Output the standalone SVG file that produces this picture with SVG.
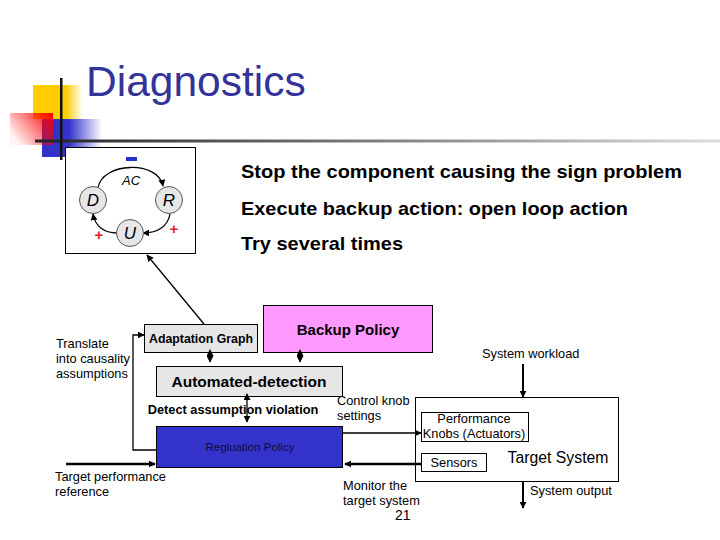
<svg xmlns="http://www.w3.org/2000/svg" width="720" height="540" viewBox="0 0 720 540">
<defs>
<style>
text{font-family:"Liberation Sans",Arial,sans-serif;fill:#000}
.b{font-weight:bold}
.s{font-size:12.8px}
.box{stroke:#000;stroke-width:1}
.ln{fill:none;stroke:#000;stroke-width:1.3}
.thk{fill:none;stroke:#000;stroke-width:2.5}
.circ{fill:#e6e6e6;stroke:#555;stroke-width:1}
.it{font-style:italic}
</style>
<linearGradient id="gy" x1="0" x2="1" y1="0" y2="0"><stop offset="0" stop-color="#ffcc00"/><stop offset="0.65" stop-color="#ffcc00"/><stop offset="1" stop-color="#ffcc00" stop-opacity="0"/></linearGradient>
<linearGradient id="gb" x1="0" x2="1" y1="0" y2="0"><stop offset="0" stop-color="#3333cc"/><stop offset="0.45" stop-color="#3333cc"/><stop offset="1" stop-color="#3333cc" stop-opacity="0"/></linearGradient>
<linearGradient id="gr" x1="1" x2="0" y1="0" y2="0.6"><stop offset="0" stop-color="#ff0000"/><stop offset="1" stop-color="#ff0000" stop-opacity="0.05"/></linearGradient>
<linearGradient id="gl" x1="0" x2="1" y1="0" y2="0"><stop offset="0" stop-color="#222"/><stop offset="1" stop-color="#ddd"/></linearGradient>
<marker id="ah" viewBox="0 0 10 10" refX="9" refY="5" markerWidth="7" markerHeight="7" orient="auto" markerUnits="userSpaceOnUse"><path d="M0,0L10,5L0,10z" fill="#000"/></marker>
<marker id="ahs" viewBox="0 0 10 10" refX="0" refY="5" markerWidth="7" markerHeight="7" orient="auto-start-reverse" markerUnits="userSpaceOnUse"><path d="M0,0L10,5L0,10z" fill="#000"/></marker>
</defs>

<g id="title-deco">
<rect x="33" y="85" width="50" height="34" fill="url(#gy)"/>
<rect x="42" y="119" width="60" height="38" fill="url(#gb)"/>
<rect x="10" y="113" width="43" height="32" fill="url(#gr)"/>
<rect x="35" y="139.5" width="685" height="3" fill="url(#gl)"/>
<rect x="60" y="78" width="2.5" height="82" fill="#111"/>
</g>
<text x="86" y="96" font-size="42.5" style="fill:#333399">Diagnostics</text>

<g id="ac-box">
<rect x="65.5" y="147.5" width="130" height="106" fill="#fff" class="box"/>
<rect x="126" y="157" width="11" height="4" fill="#2233cc"/>
<text x="131" y="185" font-size="13" class="it" text-anchor="middle">AC</text>
<path class="ln" d="M98,188 C102,162 158,160 163,186" marker-end="url(#ah)"/>
<path class="ln" d="M170,214 C168,226 158,233 143,233" marker-end="url(#ah)"/>
<path class="ln" d="M117,233 C104,233 95,226 93,214" marker-end="url(#ah)"/>
<g id="node-D"><circle cx="93" cy="200" r="13.5" class="circ"/><text x="93" y="206" font-size="17" class="it" text-anchor="middle">D</text></g>
<g id="node-R"><circle cx="169" cy="200" r="13.5" class="circ"/><text x="169" y="206" font-size="17" class="it" text-anchor="middle">R</text></g>
<g id="node-U"><circle cx="130" cy="233" r="13.5" class="circ"/><text x="130" y="239" font-size="17" class="it" text-anchor="middle">U</text></g>
<text x="99" y="240" font-size="15" class="b" text-anchor="middle" style="fill:#dd2222">+</text>
<text x="174" y="234" font-size="15" class="b" text-anchor="middle" style="fill:#dd2222">+</text>
</g>

<g id="bullets">
<text x="241" y="178" font-size="19" class="b" textLength="441" lengthAdjust="spacingAndGlyphs">Stop the component causing the sign problem</text>
<text x="241" y="215" font-size="19" class="b" textLength="387" lengthAdjust="spacingAndGlyphs">Execute backup action: open loop action</text>
<text x="241" y="250" font-size="19" class="b" textLength="162" lengthAdjust="spacingAndGlyphs">Try several times</text>
</g>

<g id="adaptation-graph">
<rect x="144.5" y="324.5" width="113" height="28" fill="#e6e6e6" class="box"/>
<text x="201" y="343" font-size="12.3" class="b" text-anchor="middle">Adaptation Graph</text>
</g>
<g id="backup-policy">
<rect x="263.5" y="305.5" width="169" height="47" fill="#ff99ff" class="box"/>
<text x="348" y="335" font-size="15" class="b" text-anchor="middle">Backup Policy</text>
</g>
<g id="automated-detection">
<rect x="156.5" y="366.5" width="186" height="30" fill="#e6e6e6" class="box"/>
<text x="249" y="387" font-size="15.5" class="b" text-anchor="middle">Automated-detection</text>
</g>
<text x="233" y="414" font-size="12.8" class="b" text-anchor="middle">Detect assumption violation</text>
<g id="regulation-policy">
<rect x="156.5" y="426.5" width="186" height="41" fill="#3333cc" class="box"/>
<text x="250" y="451" font-size="11.5" text-anchor="middle" style="fill:#0d0d40">Regluation Policy</text>
</g>
<g id="target-system">
<rect x="415.5" y="397.5" width="203" height="84" fill="#fff" class="box"/>
<text x="558" y="463" font-size="15.8" text-anchor="middle">Target System</text>
</g>
<g id="performance-knobs">
<rect x="421.5" y="412.5" width="107" height="29" fill="#fff" class="box"/>
<text x="474" y="423" class="s" text-anchor="middle">Performance</text>
<text x="474" y="438" class="s" text-anchor="middle">Knobs (Actuators)</text>
</g>
<g id="sensors">
<rect x="421.5" y="453.5" width="65" height="18" fill="#fff" class="box"/>
<text x="454" y="467" class="s" text-anchor="middle">Sensors</text>
</g>

<g id="labels">
<text x="56" y="348" class="s">Translate</text>
<text x="56" y="363" class="s">into causality</text>
<text x="56" y="378" class="s">assumptions</text>
<text x="55" y="481" class="s">Target performance</text>
<text x="55" y="496" class="s">reference</text>
<text x="337" y="405" class="s">Control knob</text>
<text x="337" y="420" class="s">settings</text>
<text x="343" y="490" class="s">Monitor the</text>
<text x="343" y="505" class="s">target system</text>
<text x="395" y="520" font-size="14">21</text>
<text x="482" y="358" class="s">System workload</text>
<text x="530" y="495" class="s">System output</text>
</g>

<g id="connectors">
<path class="ln" d="M204,324 L147,255" marker-end="url(#ah)"/>
<path class="ln" d="M210,356 L210,362" marker-start="url(#ahs)" marker-end="url(#ah)"/>
<path class="ln" d="M300,356 L300,362" marker-start="url(#ahs)" marker-end="url(#ah)"/>
<path class="ln" d="M247,400 L247,422" marker-start="url(#ahs)" marker-end="url(#ah)"/>
<path class="ln" d="M156,450 L133,450 L133,335 L144,335" marker-end="url(#ah)"/>
<path class="thk" d="M66,464 L155,464" marker-end="url(#ah)"/>
<path class="ln" d="M343,433 L421,433" marker-end="url(#ah)"/>
<path class="thk" d="M421,464 L345,464" marker-end="url(#ah)"/>
<path class="ln" style="stroke-width:2" d="M523,364 L523,397" marker-end="url(#ah)"/>
<path class="ln" style="stroke-width:2" d="M523,482 L523,508" marker-end="url(#ah)"/>
</g>
</svg>
